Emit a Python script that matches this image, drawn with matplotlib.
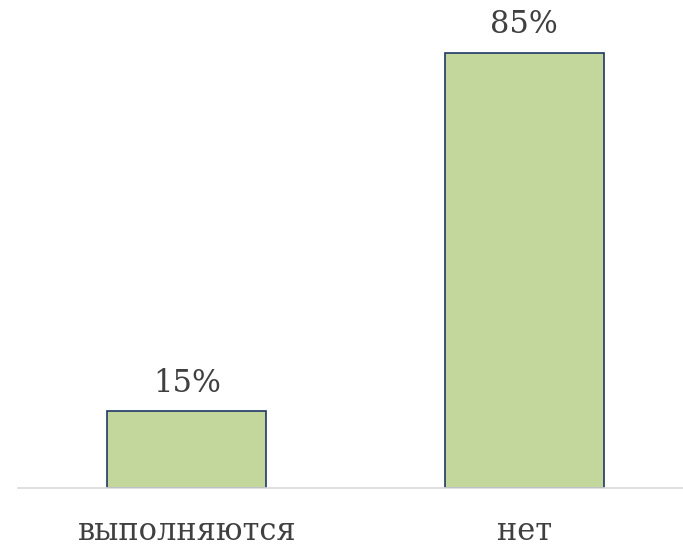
import matplotlib.pyplot as plt

# data
categories = ['выполняются', 'нет']
values = [15, 85]
labels = ['15%', '85%']

plt.rcParams['font.family'] = ['DejaVu Serif']

fig = plt.figure(figsize=(6.83, 5.5), dpi=100)
ax = fig.add_axes([18 / 683, 62 / 550, 675 / 683, 460.8 / 550])

bars = ax.bar(range(len(categories)), values, width=0.47,
              color='#C3D69B', edgecolor='#1F3864', linewidth=1.2, zorder=2)

for b, lab in zip(bars, labels):
    ax.annotate(lab, (b.get_x() + b.get_width() / 2, b.get_height()),
                xytext=(0, 9), textcoords='offset points',
                ha='center', va='bottom', fontsize=22, color='#404040')

ax.set_xlim(-0.5, 1.5)
ax.set_ylim(0, 90)
ax.set_xticks(range(len(categories)))
ax.set_xticklabels(categories, fontsize=22, color='#404040')
ax.tick_params(axis='x', length=0, pad=20)
ax.set_yticks([])
for s in ['top', 'right', 'left']:
    ax.spines[s].set_visible(False)
ax.spines['bottom'].set_color('#D9D9D9')
ax.spines['bottom'].set_linewidth(1.2)

fig.savefig('out.png', dpi=100)
